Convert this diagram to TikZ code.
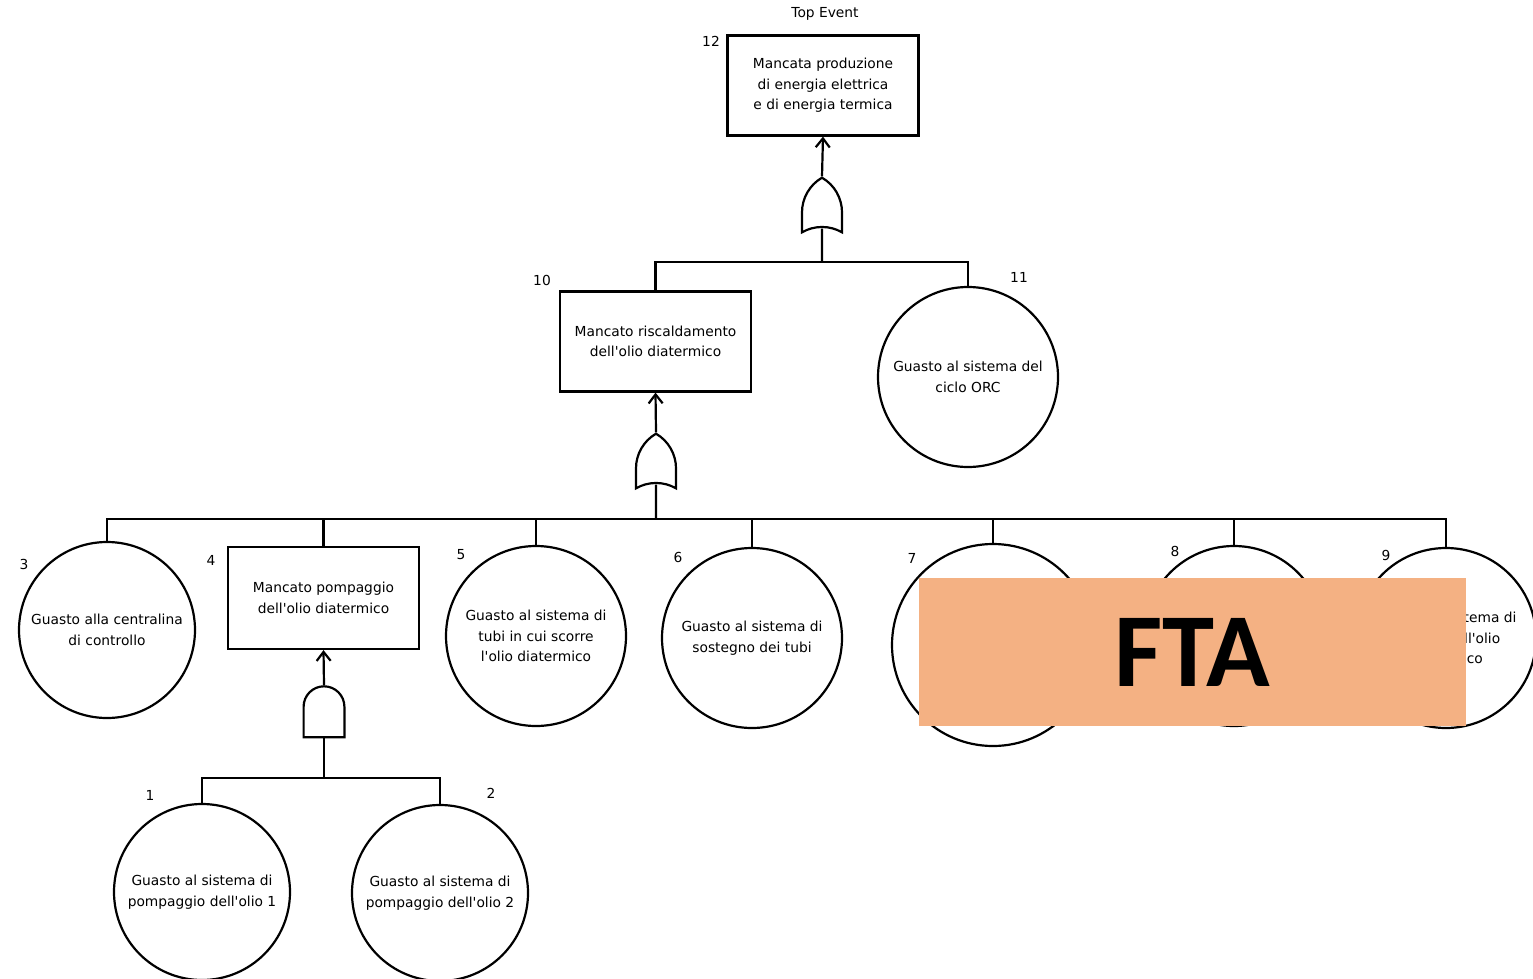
\documentclass[tikz,border=0pt]{standalone}
\usepackage{fontspec}
\setmainfont{DejaVu Sans}[Ligatures=TeXOff]
\newfontfamily\ftafont{Carlito}
\usetikzlibrary{arrows.meta}
\usetikzlibrary{calc}
\usetikzlibrary{shapes.gates.logic.US}
\definecolor{salmone}{RGB}{244,177,131}

\begin{document}
\begin{tikzpicture}[x=1pt,y=-1pt,line width=2.2pt,>={Straight Barb[length=9pt,width=14pt]},
		every text node part/.style={align=center}]
		\tikzstyle{evento}=[draw,rectangle,minimum width=191,minimum height=100,inner sep=0pt,font=\fontsize{13.8}{20.5}\selectfont]
		\tikzstyle{base}=[draw,circle,minimum size=180,inner sep=0pt,font=\fontsize{13.8}{20.5}\selectfont]
		\tikzstyle{numero}=[inner sep=0pt,font=\fontsize{13.8}{16}\selectfont]
		\tikzstyle{porta or}=[draw,or gate US,logic gate inputs=nn,rotate=90,minimum width=52,minimum height=40,inner sep=0pt]
		\tikzstyle{porta and}=[draw,and gate US,logic gate inputs=nn,rotate=90,minimum width=51,minimum height=39,inner sep=0pt]
		\useasboundingbox (0,0) rectangle (1533,979);
		
		\node[numero]   (top)  at (825,14)   {Top Event};
		\node[evento]   (e12)  at (823,85.5) {Mancata produzione \\ di energia elettrica \\ e di energia termica};
		\node[numero]   (n12)  at (711,41)   {12};
		\node[porta or] (or1)  at (822,209)  {};
		\draw[->] (or1.output) -- (e12.south);
		
		\node[evento]   (e10)  at (655.5,341.5) {Mancato riscaldamento \\ dell'olio diatermico};
		\node[numero]   (n10)  at (542,280)  {10};
		\node[base]     (e11)  at (968,377)  {Guasto al sistema del \\ ciclo ORC};
		\node[numero]   (n11)  at (1019,277) {11};
		\coordinate     (j12)  at (822,262);
		\draw ($(or1.input 1)!.5!(or1.input 2)$) -- (j12);
		\draw (e10.north) |- (j12) -| (e11.north);
		
		\node[porta or] (or2)  at (656,465)  {};
		\draw[->] (or2.output) -- (e10.south);
		
		\node[base,minimum size=176] (e3) at (107,630) {Guasto alla centralina \\ di controllo};
		\node[numero]   (n3)   at (24,564)   {3};
		\node[evento,minimum height=102] (e4) at (323.5,598) {Mancato pompaggio \\ dell'olio diatermico};
		\node[numero]   (n4)   at (211,560)  {4};
		\node[base]     (e5)   at (536,636)  {Guasto al sistema di \\ tubi in cui scorre \\ l'olio diatermico};
		\node[numero]   (n5)   at (461,555)  {5};
		\node[base]     (e6)   at (752,638)  {Guasto al sistema di \\ sostegno dei tubi};
		\node[numero]   (n6)   at (678,557)  {6};
		\node[base,minimum size=202] (e7) at (993,645) {};
		\node[numero]   (n7)   at (912,558)  {7};
		\node[base]     (e8)   at (1234,636) {};
		\node[numero]   (n8)   at (1175,551) {8};
		\node[base]     (e9)   at (1446,638) {Guasto al sistema di \\ circuito dell'olio \\ diatermico};
		\node[numero]   (n9)   at (1386,555) {9};
		\coordinate     (j10)  at (656,519);
		\draw ($(or2.input 1)!.5!(or2.input 2)$) -- (j10);
		\draw (e3.north) |- (j10) -| (e9.north);
		\foreach \n in {4,5,6,7,8}
			\draw (e\n.north) -- (e\n.north |- j10);
		
		\node[porta and] (and1) at (324,713.5) {};
		\draw[->] (and1.output) -- (e4.south);
		\node[base,minimum size=176] (e1) at (202,892) {Guasto al sistema di \\ pompaggio dell'olio 1};
		\node[numero]   (n1)   at (150,795)  {1};
		\node[base,minimum size=176] (e2) at (440,893) {Guasto al sistema di \\ pompaggio dell'olio 2};
		\node[numero]   (n2)   at (491,793)  {2};
		\coordinate     (j4)   at (324,778);
		\draw ($(and1.input 1)!.5!(and1.input 2)$) -- (j4);
		\draw (e1.north) |- (j4) -| (e2.north);
		
		% riquadro sovrapposto
		\node[fill=salmone,minimum width=547,minimum height=148,inner sep=0pt,
			font=\ftafont\bfseries\fontsize{105}{105}\selectfont] (fta) at (1192.5,652) {FTA};
		
\end{tikzpicture}
\end{document}
